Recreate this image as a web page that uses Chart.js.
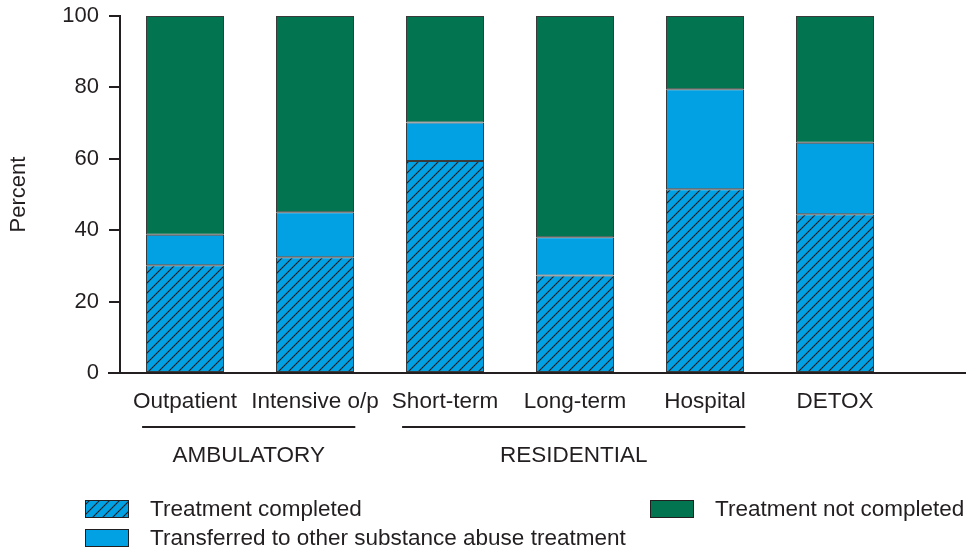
<!DOCTYPE html>
<html>
<head>
<meta charset="utf-8">
<script src="https://cdn.jsdelivr.net/npm/chart.js@4.4.1/dist/chart.umd.min.js"></script>
<style>
  html, body { margin: 0; padding: 0; background: #fff; }
  #wrap { position: relative; width: 966px; height: 552px; }
</style>
</head>
<body>
<div id="wrap"><canvas id="chart" width="966" height="552"></canvas></div>
<script>
const categories = ['Outpatient', 'Intensive o/p', 'Short-term', 'Long-term', 'Hospital', 'DETOX'];
const completed = [30.2, 32.4, 59.4, 27.3, 51.5, 44.5];
const transferred = [8.5, 12.6, 10.8, 10.7, 28.0, 20.0];
const notCompleted = [61.3, 55.0, 29.8, 62.0, 20.5, 35.5];
const groups = [
  { label: 'AMBULATORY', from: 0, to: 1 },
  { label: 'RESIDENTIAL', from: 2, to: 4 }
];
const yTicks = [0, 20, 40, 60, 80, 100];

const INK = '#231f20';
const BLUE = '#02a1e3';
const GREEN = '#037450';
const FONT = '"Liberation Sans", Arial, Helvetica, sans-serif';

// diagonal hatch on blue
function makeHatch() {
  const c = document.createElement('canvas');
  c.width = 10; c.height = 10;
  const g = c.getContext('2d');
  g.fillStyle = BLUE;
  g.fillRect(0, 0, 10, 10);
  g.strokeStyle = INK;
  g.lineWidth = 1.1;
  g.beginPath();
  g.moveTo(0, 10); g.lineTo(10, 0);
  g.moveTo(-1, 1); g.lineTo(1, -1);
  g.moveTo(9, 11); g.lineTo(11, 9);
  g.stroke();
  return g.createPattern(c, 'repeat');
}

const ctx = document.getElementById('chart').getContext('2d');
const hatch = makeHatch();

// group lines/labels, long x axis line, legend
const extras = {
  id: 'extras',
  afterDraw(chart) {
    const g = chart.ctx;
    const x = chart.scales.x, y = chart.scales.y;
    const step = x.getPixelForValue(1) - x.getPixelForValue(0);
    g.save();
    // x axis line runs past the last bar to the edge
    g.strokeStyle = INK;
    g.lineWidth = 2;
    g.beginPath();
    g.moveTo(y.right - 12, y.bottom);
    g.lineTo(chart.width, y.bottom);
    g.stroke();

    g.font = '22.5px ' + FONT;
    g.fillStyle = INK;
    g.textAlign = 'center';
    g.textBaseline = 'middle';
    groups.forEach(gr => {
      const a = x.getPixelForValue(gr.from) - step * 0.33;
      const b = x.getPixelForValue(gr.to) + step * 0.31;
      g.beginPath();
      g.moveTo(a, 427); g.lineTo(b, 427);
      g.stroke();
      g.fillText(gr.label, (a + b) / 2, 456);
    });

    // legend
    const items = [
      { text: 'Treatment completed', fill: hatch, x: 85, y: 500 },
      { text: 'Transferred to other substance abuse treatment', fill: BLUE, x: 85, y: 529 },
      { text: 'Treatment not completed', fill: GREEN, x: 650, y: 500 }
    ];
    g.textAlign = 'left';
    g.lineWidth = 1;
    items.forEach(it => {
      g.fillStyle = it.fill;
      g.fillRect(it.x, it.y, 44, 18);
      g.strokeStyle = INK;
      g.strokeRect(it.x + 0.5, it.y + 0.5, 43, 17);
      g.fillStyle = INK;
      g.fillText(it.text, it.x + 65, it.y + 10);
    });
    g.restore();
  }
};

new Chart(ctx, {
  type: 'bar',
  data: {
    labels: categories,
    datasets: [
      { label: 'Treatment completed', data: completed, backgroundColor: hatch },
      { label: 'Transferred to other substance abuse treatment', data: transferred, backgroundColor: BLUE },
      { label: 'Treatment not completed', data: notCompleted, backgroundColor: GREEN }
    ].map(d => Object.assign(d, {
      borderColor: '#3a3a3a',
      borderWidth: 1,
      borderSkipped: false,
      barPercentage: 0.6,
      categoryPercentage: 1
    }))
  },
  options: {
    responsive: false,
    animation: false,
    layout: { padding: { left: 0, top: 16, right: 66, bottom: 139 } },
    plugins: { legend: { display: false }, tooltip: { enabled: false } },
    scales: {
      x: {
        stacked: true,
        offset: true,
        grid: { display: false },
        border: { display: false },
        ticks: { color: INK, font: { family: FONT, size: 22.5 }, padding: 7, maxRotation: 0, autoSkip: false },
        afterFit(s) { s.height = 40; }
      },
      y: {
        stacked: true,
        min: 0,
        max: 100,
        afterBuildTicks(s) { s.ticks = yTicks.map(v => ({ value: v })); },
        grid: { drawOnChartArea: false, drawTicks: true, tickLength: 11, color: INK, lineWidth: 2 },
        border: { display: true, color: INK, width: 2 },
        ticks: { color: INK, font: { family: FONT, size: 22 }, padding: 10 },
        title: { display: true, text: 'Percent', color: INK, font: { family: FONT, size: 22 }, padding: { top: 6, bottom: 0 } },
        afterFit(s) { s.width = 120; s.paddingTop = 0; s.paddingBottom = 0; }
      }
    }
  },
  plugins: [extras]
});
</script>
</body>
</html>
